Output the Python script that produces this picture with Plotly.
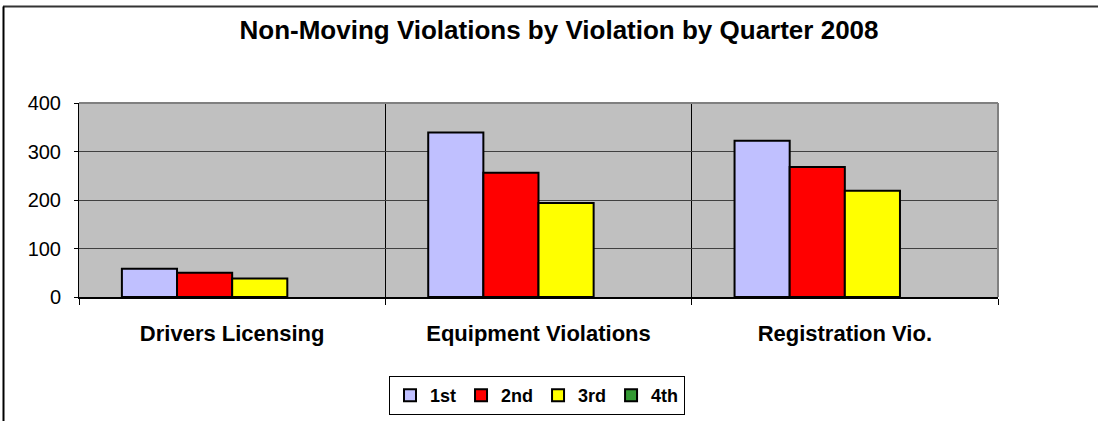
import plotly.graph_objects as go

categories = ["Drivers Licensing", "Equipment Violations", "Registration Vio."]
series_names = ["1st", "2nd", "3rd", "4th"]
q1 = [58, 339, 322]
q2 = [50, 256, 268]
q3 = [38, 194, 219]
q4 = [None, None, None]
colors = ["#C0C0FF", "#FF0000", "#FFFF00", "#339933"]
y_ticks = [0, 100, 200, 300, 400]

W, H = 1098, 421
L, R, T, B = 79, 998, 103, 297

def px(x):
    return (x - L) / (R - L)

def py(y):
    return (B - y) / (B - T)

FONT = "Liberation Sans, Arial, sans-serif"

fig = go.Figure()
for name, vals, col in zip(series_names, [q1, q2, q3, q4], colors):
    fig.add_trace(go.Bar(
        x=categories, y=vals, name=name,
        marker=dict(color=col, line=dict(color="black", width=2)),
    ))

fig.update_layout(
    width=W, height=H,
    margin=dict(l=L, r=W - R, t=T, b=H - B, pad=0, autoexpand=False),
    paper_bgcolor="white",
    plot_bgcolor="#C0C0C0",
    barmode="group",
    bargap=0.28,
    bargroupgap=0,
    font=dict(family=FONT, color="black"),
    title=dict(
        text="<b>Non-Moving Violations by Violation by Quarter 2008</b>",
        x=559 / W, xanchor="center", y=1 - 30 / H, yanchor="middle",
        font=dict(size=26, family=FONT, color="black"),
    ),
    showlegend=True,
    legend=dict(
        orientation="h",
        x=px(537), xanchor="center",
        y=py(376), yanchor="top",
        bordercolor="black", borderwidth=1, bgcolor="white",
        font=dict(size=18, family=FONT, color="black", weight="bold"),
        traceorder="normal",
        itemwidth=30,
    ),
    xaxis=dict(
        type="category",
        tickson="boundaries",
        ticks="outside", ticklen=6, tickcolor="black", tickwidth=1,
        showgrid=True, gridcolor="black", gridwidth=1,
        showline=True, linecolor="black", linewidth=2,
        tickfont=dict(size=22, family=FONT, color="black", weight="bold"),
        ticklabelstandoff=16,
        range=[-0.5, 2.5],
        fixedrange=True,
        automargin=False,
    ),
    yaxis=dict(
        range=[0, 400], tickvals=y_ticks, ticktext=[str(v) for v in y_ticks],
        ticks="outside", ticklen=4, tickcolor="black",
        showgrid=True, gridcolor="#404040", gridwidth=1,
        showline=True, linecolor="black", linewidth=1,
        zeroline=False,
        tickfont=dict(size=20, family=FONT, color="black"),
        ticklabelstandoff=9,
        automargin=False,
    ),
    shapes=[
        dict(type="line", xref="paper", yref="paper", x0=0, x1=1, y0=1, y1=1,
             line=dict(color="#808080", width=2), layer="above"),
        dict(type="line", xref="paper", yref="paper", x0=1, x1=1, y0=0, y1=1,
             line=dict(color="#808080", width=2), layer="above"),
        dict(type="line", xref="paper", yref="paper", x0=px(3), x1=px(1098), y0=py(6.5), y1=py(6.5),
             line=dict(color="#333333", width=2), layer="above"),
        dict(type="line", xref="paper", yref="paper", x0=px(3.5), x1=px(3.5), y0=py(6.5), y1=py(421),
             line=dict(color="black", width=2), layer="above"),
    ],
)

fig.write_html(
    "out.html",
    config={"displayModeBar": False},
    post_script="document.body.style.margin='0';document.body.style.overflow='hidden';",
)
